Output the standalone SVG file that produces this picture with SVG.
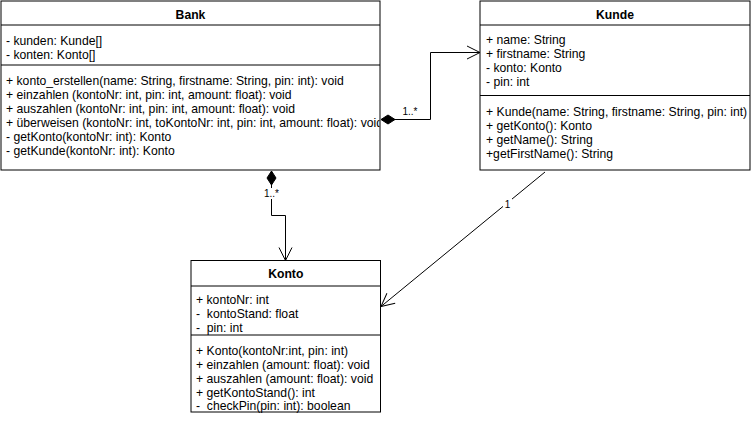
<svg xmlns="http://www.w3.org/2000/svg" width="751" height="424" viewBox="0 0 751 424">
<style>
.box{fill:#fff;stroke:#000;stroke-width:1}
.sep{stroke:#000;stroke-width:1}
.t{font-family:"Liberation Sans",Arial,Helvetica,sans-serif;font-size:12.2px;fill:#000;white-space:pre}
.title{font-weight:bold;text-anchor:middle}
.conn{fill:none;stroke:#000;stroke-width:1}
.lbl{font-family:"Liberation Sans",Arial,Helvetica,sans-serif;font-size:10px;fill:#000;text-anchor:middle}
</style>
<defs>
<clipPath id="clipBank"><rect x="1" y="1" width="378.5" height="169"/></clipPath>
<clipPath id="clipKunde"><rect x="480" y="1" width="270" height="169"/></clipPath>
<marker id="open" markerUnits="userSpaceOnUse" markerWidth="15" markerHeight="15" refX="13" refY="6.5" orient="auto" viewBox="0 0 15 15" overflow="visible">
<path d="M0,0 L13,6.5 L0,13" fill="none" stroke="#000" stroke-width="1"/>
</marker>
<marker id="diamond" markerUnits="userSpaceOnUse" markerWidth="15" markerHeight="10" refX="0" refY="4.5" orient="auto" viewBox="0 0 15 10" overflow="visible">
<path d="M0,4.5 L7,0 L14,4.5 L7,9 Z" fill="#000" stroke="#000" stroke-width="1"/>
</marker>
</defs>

<g id="connectors">
<path class="conn" d="M381,119.5 L430.5,119.5 L430.5,52.5 L480,52.5" marker-start="url(#diamond)" marker-end="url(#open)"/>
<path class="conn" d="M271.5,171 L271.5,215.5 L285.5,215.5 L285.5,260.5" marker-start="url(#diamond)" marker-end="url(#open)"/>
<path class="conn" d="M545,172 L381,306.5" marker-end="url(#open)"/>
<text class="lbl" x="410" y="115">1..*</text>
<rect x="263" y="188" width="17" height="11" fill="#fff"/>
<text class="lbl" x="271.5" y="197">1..*</text>
<rect x="503" y="198" width="9" height="11" fill="#fff"/>
<text class="lbl" x="507.5" y="208">1</text>
</g>

<g id="Bank">
<rect class="box" x="1" y="1" width="379" height="169"/>
<line class="sep" x1="1" y1="25" x2="380" y2="25"/>
<line class="sep" x1="1" y1="65" x2="380" y2="65"/>
<text class="t title" x="190.5" y="19">Bank</text>
<g clip-path="url(#clipBank)">
<text class="t" x="6" y="45">- kunden: Kunde[]</text>
<text class="t" x="6" y="59">- konten: Konto[]</text>
<text class="t" x="6" y="85">+ konto_erstellen(name: String, firstname: String, pin: int): void</text>
<text class="t" x="6" y="99">+ einzahlen (kontoNr: int, pin: int, amount: float): void</text>
<text class="t" x="6" y="113">+ auszahlen (kontoNr: int, pin: int, amount: float): void</text>
<text class="t" x="6" y="127">+ überweisen (kontoNr: int, toKontoNr: int, pin: int, amount: float): void</text>
<text class="t" x="6" y="141">- getKonto(kontoNr: int): Konto</text>
<text class="t" x="6" y="155">- getKunde(kontoNr: int): Konto</text>
</g>
</g>

<g id="Kunde">
<rect class="box" x="480" y="1" width="270" height="169"/>
<line class="sep" x1="480" y1="25" x2="750" y2="25"/>
<line class="sep" x1="480" y1="95.5" x2="750" y2="95.5"/>
<text class="t title" x="615" y="19">Kunde</text>
<g clip-path="url(#clipKunde)">
<text class="t" x="486" y="44">+ name: String</text>
<text class="t" x="486" y="58">+ firstname: String</text>
<text class="t" x="486" y="72">- konto: Konto</text>
<text class="t" x="486" y="86">- pin: int</text>
<text class="t" x="486" y="116">+ Kunde(name: String, firstname: String, pin: int)</text>
<text class="t" x="486" y="130">+ getKonto(): Konto</text>
<text class="t" x="486" y="144">+ getName(): String</text>
<text class="t" x="486" y="158">+getFirstName(): String</text>
</g>
</g>

<g id="Konto">
<rect class="box" x="191" y="260.5" width="189.5" height="151.5"/>
<line class="sep" x1="191" y1="286" x2="380.5" y2="286"/>
<line class="sep" x1="191" y1="335" x2="380.5" y2="335"/>
<text class="t title" x="285.75" y="278">Konto</text>
<text class="t" x="196" y="304">+ kontoNr: int</text>
<text class="t" x="196" y="318">-  kontoStand: float</text>
<text class="t" x="196" y="332">-  pin: int</text>
<text class="t" x="196" y="355">+ Konto(kontoNr:int, pin: int)</text>
<text class="t" x="196" y="369">+ einzahlen (amount: float): void</text>
<text class="t" x="196" y="383">+ auszahlen (amount: float): void</text>
<text class="t" x="196" y="397">+ getKontoStand(): int</text>
<text class="t" x="196" y="410">-  checkPin(pin: int): boolean</text>
</g>
</svg>
